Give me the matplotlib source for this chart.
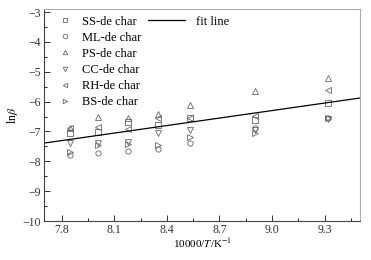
import matplotlib
matplotlib.use("Agg")
import matplotlib.pyplot as plt
import numpy as np

plt.rcParams['font.family'] = ['Liberation Serif', 'DejaVu Serif']
plt.rcParams['mathtext.fontset'] = 'stix'
plt.rcParams['axes.unicode_minus'] = True

x_vals = [7.85, 8.01, 8.18, 8.35, 8.53, 8.90, 9.32]
ss = [-7.05, -7.03, -6.68, -6.79, -6.55, -6.61, -6.05]
ml = [-7.80, -7.73, -7.64, -7.58, -7.39, -6.88, -6.55]
ps = [-6.90, -6.52, -6.55, -6.41, -6.12, -5.63, -5.22]
cc = [-7.40, -7.39, -7.35, -7.06, -6.95, -6.95, -6.58]
rh = [-6.87, -6.84, -6.93, -6.56, -6.55, -6.47, -5.61]
bs = [-7.68, -7.47, -7.42, -7.45, -7.17, -7.06, -6.55]
series_names = ['SS-de char', 'ML-de char', 'PS-de char', 'CC-de char', 'RH-de char', 'BS-de char']
series_markers = ['s', 'o', '^', 'v', '<', '>']
fit_coef = [0.839, -13.85]
x_range = [7.70, 9.50]

fig = plt.figure(figsize=(3.71, 2.60), dpi=100)
ax = fig.add_axes([0.1186, 0.15, 0.8514, 0.815])

handles = []
for name, mk, vals in zip(series_names, series_markers, [ss, ml, ps, cc, rh, bs]):
    h, = ax.plot(x_vals, vals, linestyle='none', marker=mk, markersize=3.8,
                 markerfacecolor='none', markeredgecolor='#666666', markeredgewidth=0.6,
                 label=name)
    handles.append(h)

xf = np.array(x_range)
fl, = ax.plot(xf, np.polyval(fit_coef, xf), color='black', lw=0.9, label='fit line')

leg1 = ax.legend(handles=handles, frameon=False, fontsize=9, loc='upper left',
                 bbox_to_anchor=(0.022, 1.005), labelspacing=0.33, handlelength=1.0,
                 handletextpad=0.85, borderaxespad=0.2, markerscale=0.85)
ax.add_artist(leg1)
leg2 = ax.legend(handles=[fl], frameon=False, fontsize=9, loc='upper left',
                 bbox_to_anchor=(0.304, 1.005), handlelength=3.0,
                 handletextpad=0.9, borderaxespad=0.2)

ax.set_xlim(7.70, 9.50)
ax.set_ylim(-10, -2.9)
ax.set_xticks([7.8, 8.1, 8.4, 8.7, 9.0, 9.3])
ax.set_xticks(np.arange(7.8, 9.5, 0.15), minor=True)
ax.set_yticks(range(-10, -2))
ax.set_yticks(np.arange(-10, -2.9, 0.5), minor=True)
ax.tick_params(direction='in', which='major', length=4, width=0.7, labelsize=8.5, pad=2, colors='#333333')
ax.tick_params(direction='in', which='minor', length=2, width=0.6)
ax.tick_params(axis='x', which='both', top=False)
ax.tick_params(axis='y', which='both', right=False)
for s in ['left', 'bottom']:
    ax.spines[s].set_color('#444444')
    ax.spines[s].set_linewidth(0.8)
for s in ['top', 'right']:
    ax.spines[s].set_color('#aaaaaa')
    ax.spines[s].set_linewidth(0.8)

ax.set_xlabel(r'10000/$\mathit{T}$/K$^{-1}$', fontsize=8, labelpad=0.5)
ax.set_ylabel(r'ln$\mathit{\beta}$', fontsize=8.5, labelpad=2)

fig.savefig('out.png', dpi=100)
